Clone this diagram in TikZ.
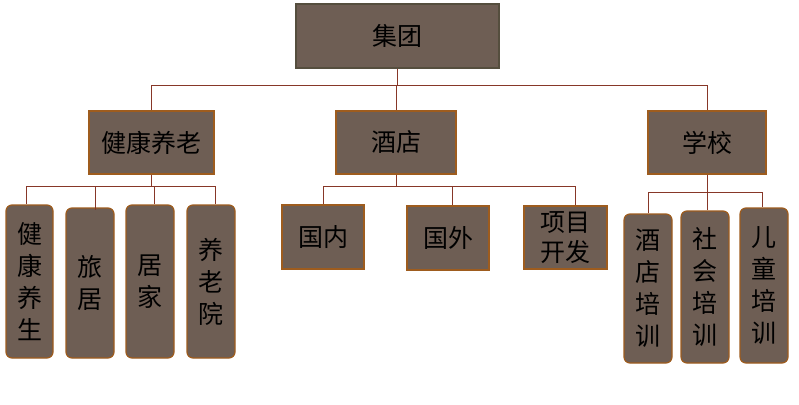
\documentclass[tikz,border=0pt]{standalone}
\usepackage{fontspec}
\setmainfont{Noto Sans CJK SC}
\definecolor{boxfill}{RGB}{110,94,84}
\definecolor{boxedge}{RGB}{158,92,30}
\definecolor{topedge}{RGB}{85,78,62}
\definecolor{conncol}{RGB}{135,55,40}
\begin{document}
\begin{tikzpicture}[x=1pt,y=-1pt,
  box/.style={draw=boxedge,fill=boxfill,line width=1.2pt,inner sep=0pt,
    font=\fontsize{25}{31}\selectfont,text=black,align=center},
  vbox/.style={box,rounded corners=6pt,font=\fontsize{25}{32}\selectfont},
  conn/.style={draw=conncol,line width=1pt}]
\useasboundingbox (0,0) rectangle (799,404);
% level 0
\node[box,draw=topedge,minimum width=203pt,minimum height=64pt] (top) at (397.5,36) {集团};
% level 1
\node[box,minimum width=125pt,minimum height=63pt] (jk) at (151.5,142.5) {健康养老};
\node[box,minimum width=120pt,minimum height=63pt] (jd) at (396,142.5) {酒店};
\node[box,minimum width=118pt,minimum height=63pt] (xx) at (707,142.5) {学校};
% level 2 left
\node[vbox,minimum width=47pt,minimum height=153pt] (a1) at (29.5,281.5) {健\\康\\养\\生};
\node[vbox,minimum width=48pt,minimum height=150pt] (a2) at (90,283) {旅\\居};
\node[vbox,minimum width=48pt,minimum height=153pt] (a3) at (150,281.5) {居\\家};
\node[vbox,minimum width=48pt,minimum height=153pt] (a4) at (211,281.5) {养\\老\\院};
% level 2 middle
\node[box,minimum width=82pt,minimum height=64pt] (b1) at (323,237) {国内};
\node[box,minimum width=82pt,minimum height=64pt] (b2) at (448,238) {国外};
\node[box,minimum width=83pt,minimum height=63pt,font=\fontsize{25}{30}\selectfont] (b3) at (565.5,237.5) {项目\\开发};
% level 2 right
\node[vbox,minimum width=48pt,minimum height=149pt] (c1) at (648,288.5) {酒\\店\\培\\训};
\node[vbox,minimum width=48pt,minimum height=152pt] (c2) at (705,287) {社\\会\\培\\训};
\node[vbox,minimum width=48pt,minimum height=155pt] (c3) at (764,285.5) {儿\\童\\培\\训};
% junction coordinates
\coordinate (L0) at (0,85);
\coordinate (LA) at (0,186);
\coordinate (LB) at (0,186);
\coordinate (LC) at (0,192);
% connectors level 0 -> 1
\draw[conn] (top.south) -- (top.south |- L0);
\draw[conn] (jk.north |- L0) -- (xx.north |- L0);
\draw[conn] (jk.north |- L0) -- (jk.north);
\draw[conn] (jd.north |- L0) -- (jd.north);
\draw[conn] (xx.north |- L0) -- (xx.north);
% left group
\draw[conn] (jk.south) -- (jk.south |- LA);
\draw[conn] ([xshift=-3.5pt]a1.north |- LA) -- ([xshift=4pt]a4.north |- LA);
\draw[conn] ([xshift=-3.5pt]a1.north |- LA) -- ([xshift=-3.5pt]a1.north);
\draw[conn] ([xshift=5pt]a2.north |- LA) -- ([xshift=5pt,yshift=-3pt]a2.north);
\draw[conn] ([xshift=4pt]a3.north |- LA) -- ([xshift=4pt]a3.north);
\draw[conn] ([xshift=4pt]a4.north |- LA) -- ([xshift=4pt]a4.north);
% middle group
\draw[conn] (jd.south) -- (jd.south |- LB);
\draw[conn] (b1.north |- LB) -- ([xshift=9.5pt]b3.north |- LB);
\draw[conn] (b1.north |- LB) -- (b1.north);
\draw[conn] ([xshift=4pt]b2.north |- LB) -- ([xshift=4pt]b2.north);
\draw[conn] ([xshift=9.5pt]b3.north |- LB) -- ([xshift=9.5pt]b3.north);
% right group
\draw[conn] (xx.south) -- (c2.north -| xx.south);
\draw[conn] (c1.north |- LC) -- ([xshift=-2pt]c3.north |- LC);
\draw[conn] (c1.north |- LC) -- (c1.north);
\draw[conn] ([xshift=-2pt]c3.north |- LC) -- ([xshift=-2pt]c3.north);
\end{tikzpicture}
\end{document}
